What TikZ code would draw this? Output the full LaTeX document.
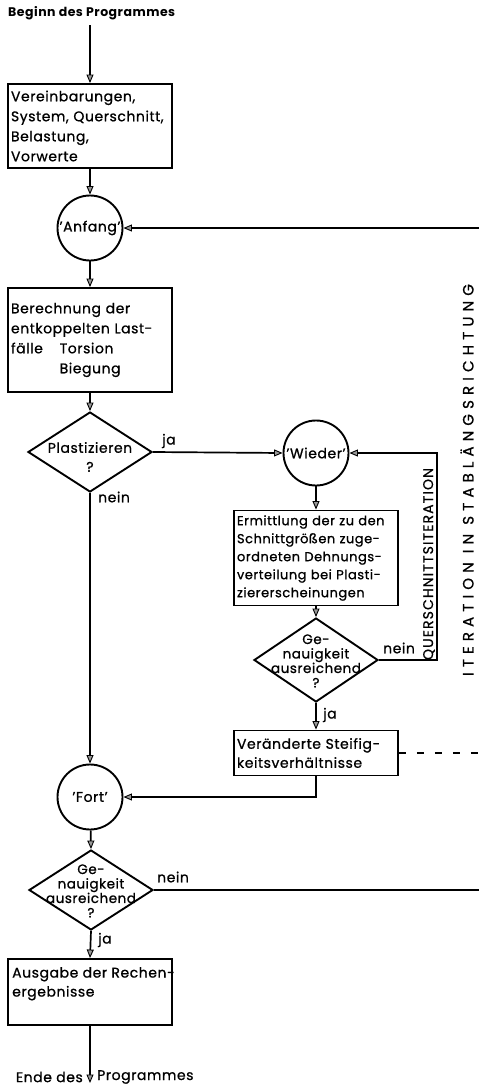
\documentclass[tikz,border=0pt]{standalone}
\usepackage{fontspec}
\setmainfont{Poppins}[LetterSpace=4, UprightFeatures={FakeBold=0.9}]
\usetikzlibrary{arrows.meta,shapes.geometric}
\begin{document}
\begin{tikzpicture}[x=1pt,y=-1pt,
  every node/.style={font=\fontsize{14}{20}\selectfont, inner sep=0pt},
  flow/.style={line width=1.7pt},
  arr/.style={-{Triangle[length=8.5pt,width=7pt,fill=black!40,line width=0.9pt]}},
  flowbox/.style={draw, line width=1.9pt, minimum width=164pt, text width=158pt, align=left},
  circ/.style={draw, circle, line width=1.9pt, minimum size=65pt},
  rhomb/.style={draw, diamond, line width=1.9pt, minimum width=124pt, minimum height=80pt},
  rhombtext/.style={align=center, font=\fontsize{13.5}{14.5}\selectfont},
  lbl/.style={anchor=west},
  vlabel/.style={rotate=90}
]
\useasboundingbox (0,0) rectangle (479,1087);
\coordinate (edge) at (479,0);
\coordinate (qx) at (437,0);

% main column
\node[anchor=west, font=\fontsize{12.5}{20}\selectfont\bfseries] (start) at (8,13) {Beginn des Programmes};
\coordinate (s0) at (90,25);
\node[flowbox, minimum height=84pt] (b1) at (90,126) {Vereinbarungen,\\System, Querschnitt,\\Belastung,\\Vorwerte};
\node[circ] (A) at (90,228) {'Anfang'};
\node[flowbox, minimum height=104pt] (b2) at (90,340) {Berechnung der\\entkoppelten Last-\\fälle\hspace{1.2em}Torsion\\\hphantom{fälle\hspace{1.2em}}Biegung};
\node[rhomb] (d1) at (90,452) {};
\node[align=center, font=\fontsize{14}{19}\selectfont] (t1) at (90,457) {Plastizieren\\?};
\node[circ] (F) at (90,797) {'Fort'};
\node[rhomb] (d3) at (91,890) {};
\node[rhombtext] (t3) at (91,891) {Ge-\\nauigkeit\\ausreichend\\?};
\node[draw, line width=1.9pt, minimum width=164pt, minimum height=66pt] (b5) at (90,992) {};
\node[anchor=north west, align=left, font=\fontsize{14}{19}\selectfont] (t5) at (12,967) {Ausgabe der Rechen-\\ergebnisse};
\coordinate (e0) at (90,1083);
\node[anchor=east] (end1) at (83,1077) {Ende des};
\node[anchor=west] (end2) at (97,1077) {Programmes};

% right column
\node[circ] (W) at (316,453) {'Wieder'};
\node[flowbox, minimum height=95pt, font=\fontsize{13}{18}\selectfont] (b3) at (316,558) {Ermittlung der zu den\\Schnittgrößen zuge-\\ordneten Dehnungs-\\verteilung bei Plasti-\\ziererscheinungen};
\node[rhomb, minimum height=84pt] (d2) at (316,660) {};
\node[rhombtext] (t2) at (316,661) {Ge-\\nauigkeit\\ausreichend\\?};
\node[flowbox, minimum height=45pt, font=\fontsize{14}{19}\selectfont] (b4) at (316,753) {Veränderte Steifig-\\keitsverhältnisse};

% labels
\node[lbl] (ja1) at (162,441) {ja};
\node[lbl] (nein1) at (98,497) {nein};
\node[lbl] (nein2) at (383,648) {nein};
\node[lbl] (ja2) at (323,715) {ja};
\node[lbl] (nein3) at (157,877) {nein};
\node[lbl] (ja3) at (98,940) {ja};
\node[vlabel, font=\fontsize{14}{16}\selectfont\addfontfeatures{LetterSpace=8}] (qit) at (429,564) {QUERSCHNITTSITERATION};
\node[vlabel, font=\fontsize{15}{16}\selectfont\addfontfeatures{LetterSpace=34}] (lit) at (467,480) {ITERATION IN STABLÄNGSRICHTUNG};

% connectors
\draw[flow,arr] (s0) -- (b1.north);
\draw[flow,arr] (b1) -- (A);
\draw[flow,arr] (A) -- (b2);
\draw[flow,arr] (b2) -- (d1.north);
\draw[flow,arr] (d1.east) -- (W.west);
\draw[flow,arr] (d1.south) -- (F.north);
\draw[flow,arr] (W) -- (b3);
\draw[flow,arr] (b3) -- (d2.north);
\draw[flow,arr] (d2.south) -- (b4.north);
\draw[flow,arr] (d2.east) -- (d2.east -| qx) |- (W.east);
\draw[flow,arr] (b4.south) |- (F.east);
\draw[line width=1.2pt, dash pattern=on 7pt off 11pt] (b4.east) -- (b4.east -| edge);
\draw[flow,arr] (A.east -| edge) -- (A.east);
\draw[flow,arr] (F) -- (d3.north);
\draw[flow] (d3.east) -- (d3.east -| edge);
\draw[flow,arr] (d3.south) -- (b5.north);
\draw[flow,arr] (b5.south) -- (e0);
\end{tikzpicture}
\end{document}
